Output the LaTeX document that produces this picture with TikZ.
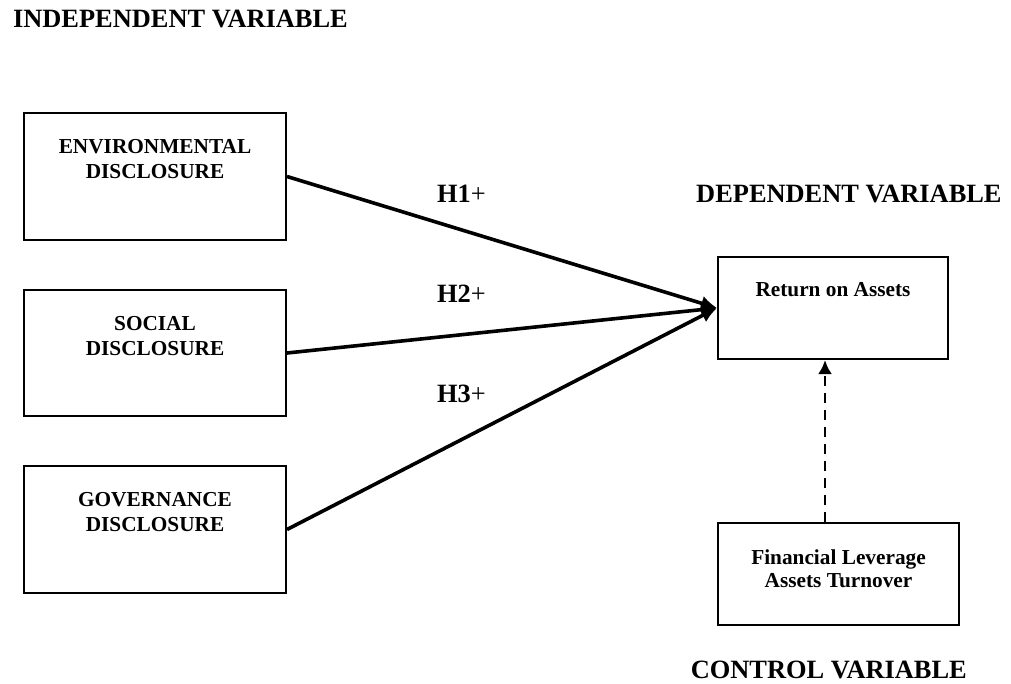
\documentclass[tikz,border=0pt]{standalone}
\usepackage{fontspec}
\setmainfont{Liberation Serif}
\usetikzlibrary{arrows.meta,calc}
\begin{document}
\begin{tikzpicture}[x=1pt,y=-1pt,
  box/.style={draw,line width=2pt,inner sep=0pt,minimum width=262pt,minimum height=127pt},
  lbl/.style={font=\fontsize{21.3}{25}\selectfont\bfseries,align=center,anchor=north,inner sep=0pt},
  head/.style={font=\fontsize{26.4}{30}\selectfont\bfseries,inner sep=0pt},
  hyp/.style={font=\fontsize{26.4}{30}\selectfont,inner sep=0pt,anchor=base west},
  link/.style={line width=3.6pt,-{Latex[length=16pt,width=15pt]}},
  ctrlarrow/.style={line width=2.8pt,dash pattern=on 10pt off 7pt,-{Latex[length=14pt,width=14pt]}}
]
\useasboundingbox (0,0) rectangle (1011,684);

% boxes
\node[box] (env) at (155,176.5) {};
\node[box,minimum height=126pt] (soc) at (155,353) {};
\node[box] (gov) at (155,529.5) {};
\node[box,minimum width=230pt,minimum height=102pt] (roa) at (833,308) {};
\node[box,minimum width=241pt,minimum height=102pt] (ctrl) at (838.5,574) {};

% box labels
\node[lbl] (envt) at ($(env.north)+(0,27)$) {ENVIRONMENTAL\\DISCLOSURE};
\node[lbl] (soct) at ($(soc.north)+(0,27)$) {SOCIAL\\DISCLOSURE};
\node[lbl] (govt) at ($(gov.north)+(0,27)$) {GOVERNANCE\\DISCLOSURE};
\node[lbl] (roat) at ($(roa.north)+(0,26)$) {Return on Assets};
\node[lbl,font=\fontsize{21.3}{23}\selectfont\bfseries] (ctrlt) at ($(ctrl.north)+(0,28)$) {Financial Leverage\\Assets Turnover};

% headings
\node[head,anchor=base east] (indep) at (348,28) {INDEPENDENT VARIABLE};
\node[head,anchor=base west] (dep) at (696,203) {DEPENDENT VARIABLE};
\node[head,anchor=base east] (contr) at (967,678) {CONTROL VARIABLE};

% hypotheses
\node[hyp] (h1) at (437,203) {\textbf{H1}+};
\node[hyp] (h2) at (437,302) {\textbf{H2}+};
\node[hyp] (h3) at (437,402) {\textbf{H3}+};

% connectors
\draw[link] (env.east) -- (roa.west);
\draw[link] (soc.east) -- (roa.west);
\draw[link] (gov.east) -- (roa.west);
\coordinate (dx) at (825,0);
\draw[ctrlarrow] (ctrl.north -| dx) -- (roa.south -| dx);
\end{tikzpicture}
\end{document}
